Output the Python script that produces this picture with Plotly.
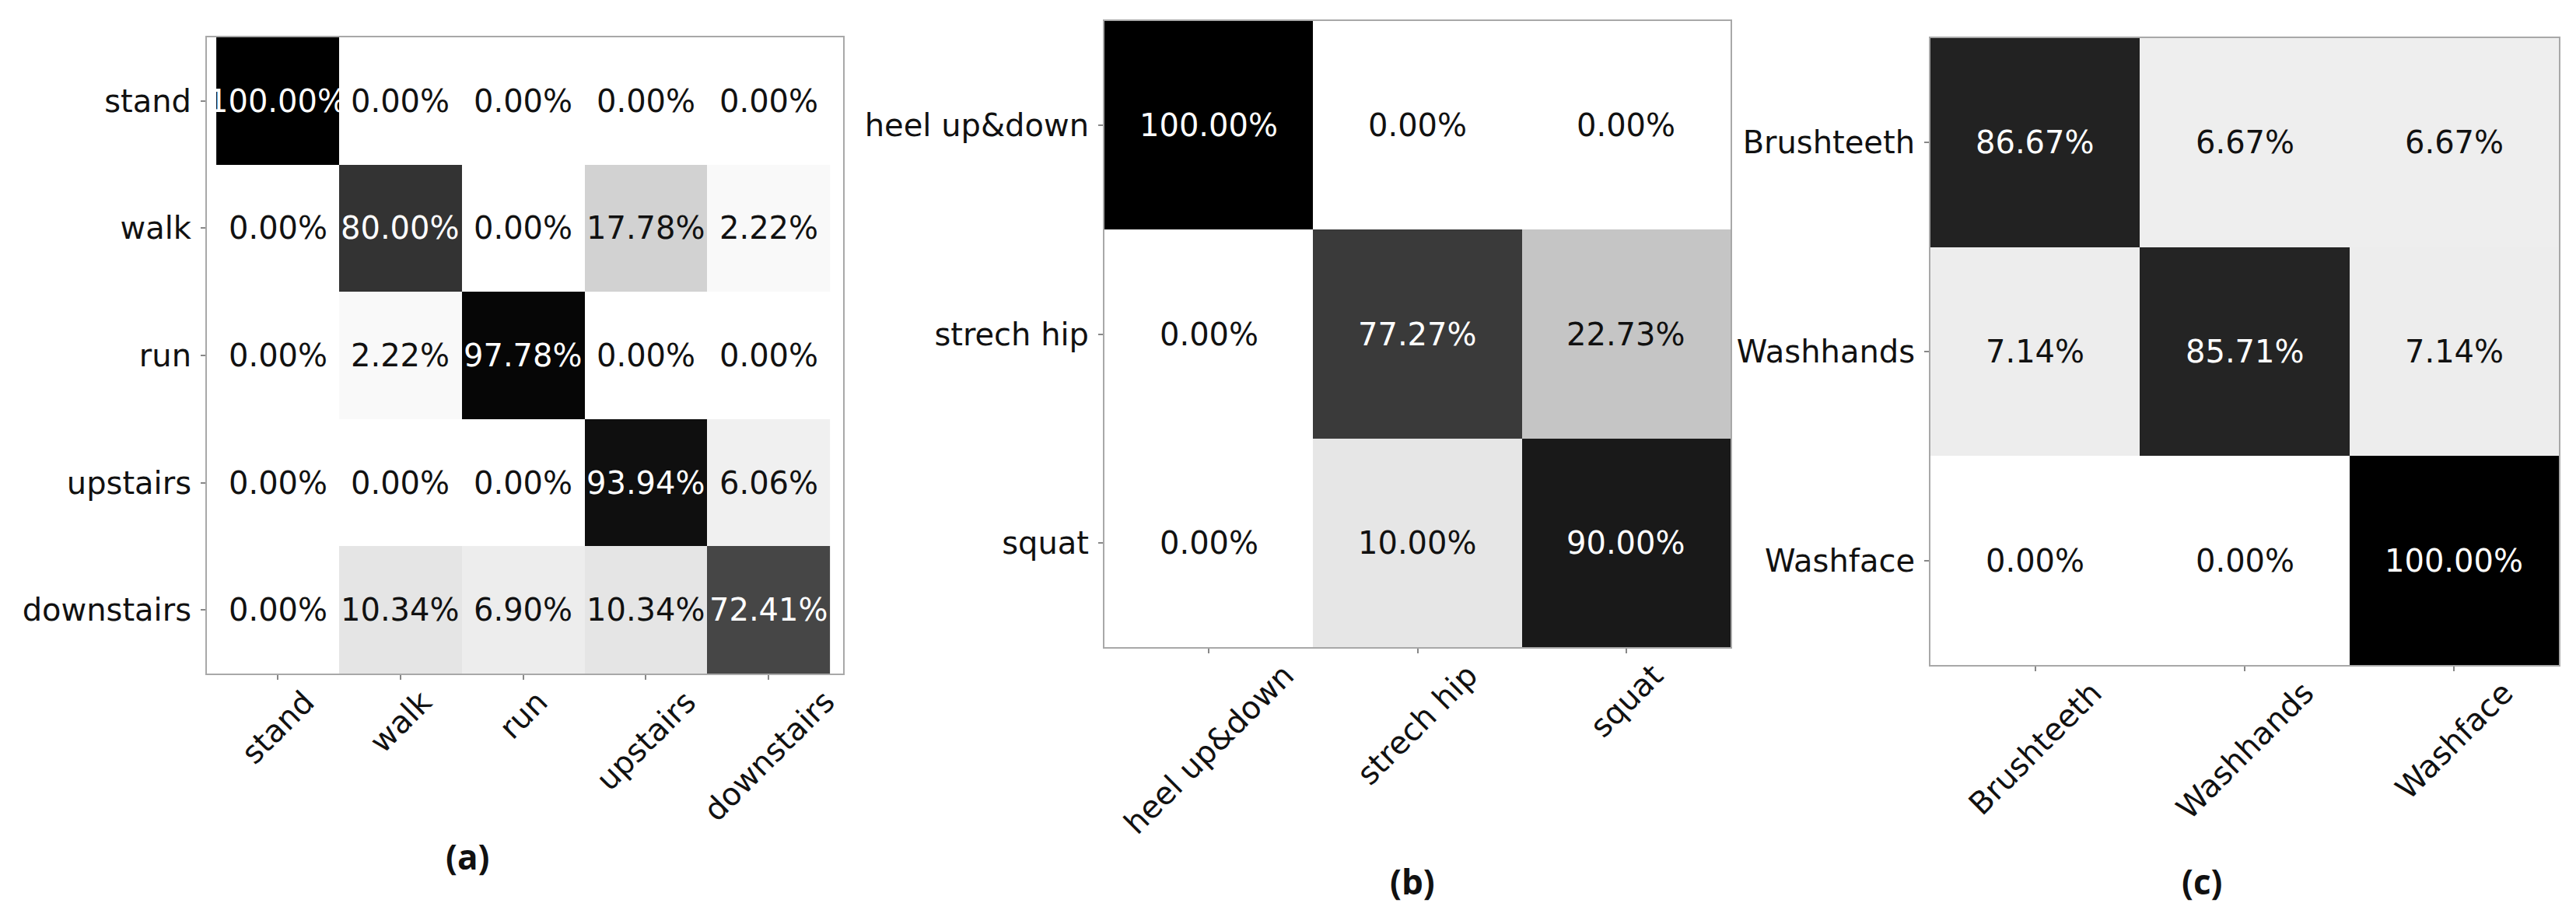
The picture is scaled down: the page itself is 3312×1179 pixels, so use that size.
import plotly.graph_objects as go

# ---- data ----
a_labels = ["stand", "walk", "run", "upstairs", "downstairs"]
a_vals = [
    [100.00, 0.00, 0.00, 0.00, 0.00],
    [0.00, 80.00, 0.00, 17.78, 2.22],
    [0.00, 2.22, 97.78, 0.00, 0.00],
    [0.00, 0.00, 0.00, 93.94, 6.06],
    [0.00, 10.34, 6.90, 10.34, 72.41],
]
b_labels = ["heel up&down", "strech hip", "squat"]
b_vals = [
    [100.00, 0.00, 0.00],
    [0.00, 77.27, 22.73],
    [0.00, 10.00, 90.00],
]
c_labels = ["Brushteeth", "Washhands", "Washface"]
c_vals = [
    [86.67, 6.67, 6.67],
    [7.14, 85.71, 7.14],
    [0.00, 0.00, 100.00],
]
panel_titles = ["(a)", "(b)", "(c)"]

W, H = 3312, 1179
FONT = "DejaVu Sans"
FS = 40

# panel boxes in pixels (left, right, top, bottom)
boxes = [(258, 1076, 40, 858), (1412, 2217, 19, 824), (2474, 3282, 41, 847)]
title_pos = [(593, 1093), (1808, 1125), (2823, 1125)]

fig = go.Figure()
annotations = []
panels = [(a_labels, a_vals), (b_labels, b_vals), (c_labels, c_vals)]
for i, (labels, vals) in enumerate(panels):
    n = i + 1
    xa = "x" if n == 1 else f"x{n}"
    ya = "y" if n == 1 else f"y{n}"
    fig.add_trace(go.Heatmap(
        z=vals, x=labels, y=labels,
        colorscale=[[0, "#ffffff"], [1, "#000000"]],
        zmin=0, zmax=100, showscale=False,
        xaxis=xa, yaxis=ya, hoverinfo="skip",
    ))
    l, r, t, b = boxes[i]
    axis_common = dict(
        showline=True, linecolor="#a8a8a8", linewidth=2, mirror=True,
        ticks="outside", ticklen=6, tickwidth=1.5, tickcolor="#888888",
        showgrid=False, zeroline=False,
    )
    fig.layout[f"xaxis{'' if n == 1 else n}"] = dict(
        domain=[l / W, r / W], anchor=ya, showticklabels=False,
        type="category", **axis_common)
    fig.layout[f"yaxis{'' if n == 1 else n}"] = dict(
        domain=[1 - b / H, 1 - t / H], anchor=xa, autorange="reversed",
        type="category", tickfont=dict(family=FONT, size=FS, color="#111111"),
        ticklabelstandoff=4, **axis_common)
    # cell texts
    for ri, row in enumerate(vals):
        for ci, v in enumerate(row):
            annotations.append(dict(
                x=labels[ci], y=labels[ri], xref=xa, yref=ya,
                text=f"{v:.2f}%", showarrow=False,
                font=dict(family=FONT, size=FS,
                          color="#ffffff" if v > 50 else "#111111"),
            ))
    # rotated x tick labels (matplotlib style: centered under tick)
    for lab in labels:
        annotations.append(dict(
            x=lab, y=0, xref=xa, yref=f"{ya} domain",
            text=lab, showarrow=False, textangle=-45,
            xanchor="center", yanchor="top", yshift=-10,
            font=dict(family=FONT, size=FS, color="#111111"),
        ))
    tx, ty = title_pos[i]
    annotations.append(dict(
        x=tx / W, y=1 - ty / H, xref="paper", yref="paper",
        text=f"<b>{panel_titles[i]}</b>", showarrow=False,
        xanchor="center", yanchor="middle",
        font=dict(family="Open Sans", size=44, color="#111111"),
    ))

fig.update_layout(
    width=W, height=H,
    margin=dict(l=0, r=0, t=0, b=0),
    paper_bgcolor="white", plot_bgcolor="white",
    annotations=annotations,
    showlegend=False,
)
fig.write_html("out.html", config={"displayModeBar": False})
